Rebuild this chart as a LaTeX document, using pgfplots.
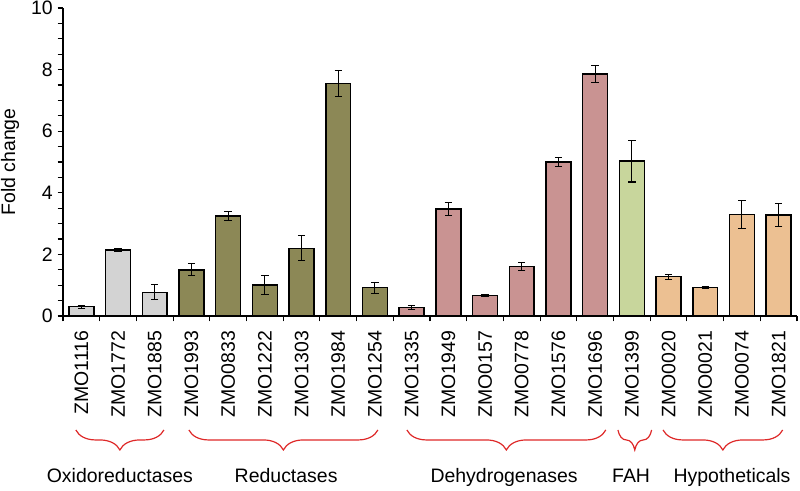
\documentclass[border=0pt]{standalone}
\usepackage{pgfplots}
\pgfplotsset{compat=1.18}
\usepackage{fontspec}
\setmainfont{Liberation Sans}
\usetikzlibrary{decorations.pathreplacing}
\definecolor{cgray}{RGB}{211,211,211}
\definecolor{colive}{RGB}{140,136,86}
\definecolor{crose}{RGB}{201,147,146}
\definecolor{cgreen}{RGB}{200,214,156}
\definecolor{cpeach}{RGB}{236,192,146}
\definecolor{bred}{RGB}{222,40,40}
\begin{document}
\begin{tikzpicture}
\useasboundingbox (0,0) rectangle (600pt,367.5pt);
\begin{axis}[
  at={(47.25pt,130.5pt)}, anchor=south west,
  scale only axis, width=550.5pt, height=231pt,
  xmin=-0.5, xmax=19.5, ymin=0, ymax=10,
  axis lines=left, axis line style={-, line width=0.9pt},
  tick align=outside,
  ytick={0,2,...,10}, minor y tick num=3,
  major tick length=4pt, minor tick length=4pt,
  tick style={black, line width=0.8pt},
  xtick={0,...,19},
  xticklabels={ZMO1116,ZMO1772,ZMO1885,ZMO1993,ZMO0833,ZMO1222,ZMO1303,ZMO1984,ZMO1254,ZMO1335,ZMO1949,ZMO0157,ZMO0778,ZMO1576,ZMO1696,ZMO1399,ZMO0020,ZMO0021,ZMO0074,ZMO1821},
  major x tick style={draw=none},
  minor xtick={-0.5,0.5,...,19.5},
  x tick label style={rotate=90, anchor=east, inner sep=0pt, xshift=-7pt},
  y tick label style={inner sep=0pt, xshift=-3.5pt},
  tick label style={font=\fontsize{14.6}{17}\selectfont},
  /pgf/number format/assume math mode=true,
  ylabel={Fold change},
  ylabel style={font=\fontsize{14.6}{17}\selectfont, at={(axis description cs:0,0.5)}, anchor=center, yshift=39.75pt},
  ybar, bar width=0.68, bar shift=0pt,
  clip=false,
  every axis plot/.append style={draw=black, line width=1.1pt},
  error bars/error bar style={black, line width=0.8pt},
  error bars/error mark options={rotate=90, mark size=2.75pt, line width=0.8pt, black},
]
\addplot[fill=cgray, error bars/.cd, y dir=both, y explicit] coordinates {
  (0,0.30) +- (0,0.05)
  (1,2.14) +- (0,0.04)
  (2,0.77) +- (0,0.24)
};
\addplot[fill=colive, error bars/.cd, y dir=both, y explicit] coordinates {
  (3,1.50) +- (0,0.20)
  (4,3.25) +- (0,0.15)
  (5,1.00) +- (0,0.30)
  (6,2.20) +- (0,0.40)
  (7,7.55) +- (0,0.43)
  (8,0.92) +- (0,0.18)
};
\addplot[fill=crose, error bars/.cd, y dir=both, y explicit] coordinates {
  (9,0.28) +- (0,0.06)
  (10,3.47) +- (0,0.22)
  (11,0.66) +- (0,0.04)
  (12,1.60) +- (0,0.13)
  (13,5.00) +- (0,0.16)
  (14,7.86) +- (0,0.28)
};
\addplot[fill=cgreen, error bars/.cd, y dir=both, y explicit] coordinates {
  (15,5.03) +- (0,0.68)
};
\addplot[fill=cpeach, error bars/.cd, y dir=both, y explicit] coordinates {
  (16,1.28) +- (0,0.08)
  (17,0.93) +- (0,0.02)
  (18,3.30) +- (0,0.45)
  (19,3.28) +- (0,0.37)
};
\begin{scope}[bred, line width=0.9pt, decoration={brace, mirror, amplitude=15pt}]
\draw[decorate] (axis cs:-0.15,-3.70) -- (axis cs:2.25,-3.70);
\draw[decorate] (axis cs:2.93,-3.70) -- (axis cs:8.08,-3.70);
\draw[decorate] (axis cs:8.87,-3.70) -- (axis cs:14.29,-3.70);
\draw[decorate] (axis cs:14.62,-3.70) -- (axis cs:15.54,-3.70);
\draw[decorate] (axis cs:15.85,-3.70) -- (axis cs:19.11,-3.70);
\end{scope}
\begin{scope}[every node/.style={anchor=base, inner sep=0pt, font=\fontsize{14.6}{17}\selectfont}]
\node at (axis cs:1.05,-5.41) {Oxidoreductases};
\node at (axis cs:5.58,-5.41) {Reductases};
\node at (axis cs:11.52,-5.41) {Dehydrogenases};
\node at (axis cs:14.98,-5.41) {FAH};
\node at (axis cs:17.73,-5.41) {Hypotheticals};
\end{scope}
\end{axis}
\end{tikzpicture}
\end{document}
